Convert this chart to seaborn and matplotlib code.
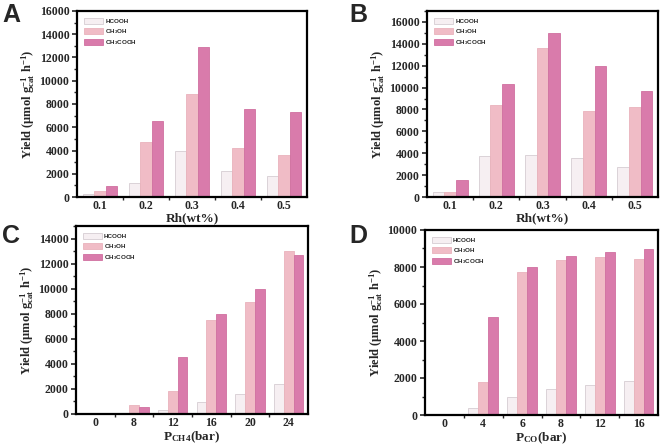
import matplotlib
matplotlib.use("Agg")
import matplotlib.pyplot as plt
import matplotlib.patches as mpatches
from matplotlib.ticker import MultipleLocator, FixedLocator
import pandas as pd
import seaborn as sns

# Data
species = ["HCOOH", "CH3OH", "CH3COOH"]
species_labels = ["HCOOH", r"CH$_\mathsf{3}$OH", r"CH$_\mathsf{3}$COOH"]

rh_loading = ["0.1", "0.2", "0.3", "0.4", "0.5"]
a_hcooh = [300, 1200, 4000, 2200, 1800]
a_ch3oh = [500, 4750, 8850, 4200, 3650]
a_ch3cooh = [950, 6500, 12900, 7600, 7300]

b_hcooh = [450, 3750, 3800, 3550, 2750]
b_ch3oh = [500, 8400, 13600, 7900, 8200]
b_ch3cooh = [1550, 10350, 15000, 11950, 9700]

p_ch4 = ["0", "8", "12", "16", "20", "24"]
c_hcooh = [0, 80, 300, 950, 1600, 2400]
c_ch3oh = [0, 750, 1800, 7500, 8900, 13000]
c_ch3cooh = [0, 550, 4550, 7950, 10000, 12700]

p_co = ["0", "4", "6", "8", "12", "16"]
d_hcooh = [0, 400, 950, 1400, 1600, 1850]
d_ch3oh = [0, 1800, 7750, 8400, 8550, 8450]
d_ch3cooh = [0, 5300, 8000, 8600, 8800, 8950]

colors = ["#f6eff2", "#f0bcc6", "#d97bab"]
edges = ["#d6cdd2", "#e9b2bc", "#d070a0"]

sns.set_style("ticks")
plt.rcParams["font.family"] = ["Liberation Serif", "DejaVu Serif"]
plt.rcParams["font.weight"] = "bold"
plt.rcParams["mathtext.fontset"] = "custom"
plt.rcParams["mathtext.rm"] = "Liberation Serif:bold"
plt.rcParams["mathtext.bf"] = "Liberation Serif:bold"
plt.rcParams["mathtext.it"] = "Liberation Serif:bold"
plt.rcParams["mathtext.sf"] = "Liberation Sans:bold"
plt.rcParams["axes.unicode_minus"] = False

ylabel = r"Yield (μmol g$_{\mathbf{cat}}^{\mathbf{-1}}$ h$^{\mathbf{-1}}$)"

panels = [
    ("A", rh_loading, [a_hcooh, a_ch3oh, a_ch3cooh], 16000, "Rh(wt%)",
     (77, 11, 307, 197), (2, 22)),
    ("B", rh_loading, [b_hcooh, b_ch3oh, b_ch3cooh], 17000, "Rh(wt%)",
     (427, 11, 658, 197), (349, 22)),
    ("C", p_ch4, [c_hcooh, c_ch3oh, c_ch3cooh], 15000, r"P$_{\mathbf{CH4}}$(bar)",
     (76, 226, 308, 414), (2, 243)),
    ("D", p_co, [d_hcooh, d_ch3oh, d_ch3cooh], 10000, r"P$_{\mathbf{CO}}$(bar)",
     (425, 230, 658, 415), (349, 243)),
]

W, H = 661, 447
fig = plt.figure(figsize=(6.61, 4.47), dpi=100)

for letter, cats, series, ymax, xlabel, box, lpos in panels:
    l, t, r, b = box
    ax = fig.add_axes([l / W, 1 - b / H, (r - l) / W, (b - t) / H])
    df = pd.DataFrame({
        "x": cats * 3,
        "species": [s for s in species for _ in cats],
        "y": series[0] + series[1] + series[2],
    })
    sns.barplot(data=df, x="x", y="y", hue="species", order=cats,
                hue_order=species, palette=colors, width=0.76, gap=0,
                legend=False, ax=ax, saturation=1)
    for cont, ec in zip(ax.containers, edges):
        for p in cont:
            p.set_edgecolor(ec)
            p.set_linewidth(0.6)

    ax.set_xlim(-0.5, len(cats) - 0.5)
    ax.set_ylim(0, ymax)
    ax.yaxis.set_major_locator(MultipleLocator(2000))
    ax.yaxis.set_minor_locator(MultipleLocator(1000))
    ax.xaxis.set_minor_locator(FixedLocator([i + 0.5 for i in range(len(cats) - 1)]))
    ax.tick_params(axis="x", which="major", length=0, pad=2.5, labelsize=8.5)
    ax.tick_params(axis="x", which="minor", length=2.5, width=1, direction="out")
    ax.tick_params(axis="y", which="major", length=3.5, width=1.2, labelsize=8.5, pad=2)
    ax.tick_params(axis="y", which="minor", length=2, width=1)
    for lab in ax.get_xticklabels() + ax.get_yticklabels():
        lab.set_fontweight("bold")
    for sp in ax.spines.values():
        sp.set_visible(True)
        sp.set_linewidth(1.6)
        sp.set_color("black")

    ax.set_xlabel(xlabel, fontsize=9.5, fontweight="bold", labelpad=0)
    ax.set_ylabel(ylabel, fontsize=9, fontweight="bold", labelpad=2)

    handles = [mpatches.Patch(facecolor=c, edgecolor=e, linewidth=0.6)
               for c, e in zip(colors, edges)]
    ax.legend(handles, species_labels, loc="upper left", frameon=False,
              prop={"family": "Liberation Sans", "weight": "bold", "size": 4.5},
              handlelength=3.0, handleheight=1.1, labelspacing=0.45,
              borderaxespad=0.7, handletextpad=0.4)

    fig.text(lpos[0] / W, 1 - lpos[1] / H, letter, fontsize=18,
             fontweight="bold", family="Liberation Sans", va="baseline")

fig.savefig("out.png", dpi=100)
